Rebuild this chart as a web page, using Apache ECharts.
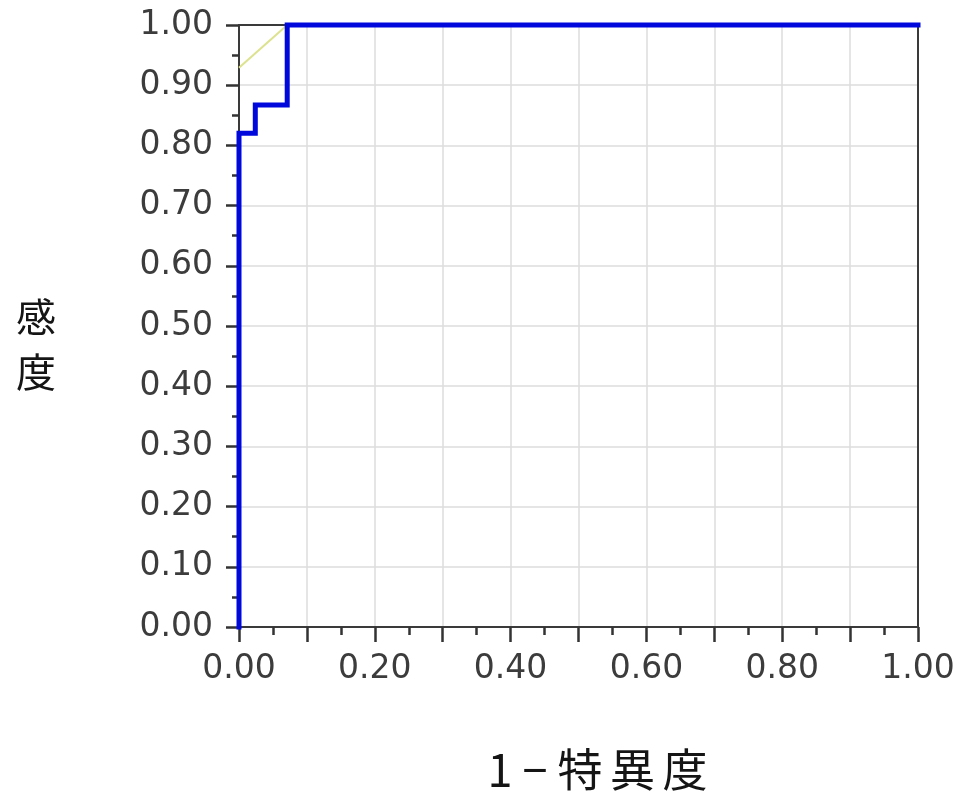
<!DOCTYPE html>
<html>
<head>
<meta charset="utf-8">
<script src="https://cdn.jsdelivr.net/npm/echarts@6/dist/echarts.min.js"></script>
<style>
  html, body { margin: 0; padding: 0; background: #fff; }
  #chart { width: 957px; height: 794px; }
</style>
</head>
<body>
<div id="chart"></div>
<script>
// ROC curve vertices (1 - specificity, sensitivity)
const rocFpr = [0, 0, 0.024, 0.024, 0.071, 0.071, 1];
const rocTpr = [0, 0.82, 0.82, 0.867, 0.867, 1, 1];

// Slope-1 reference line through the best cut-off point
const refFpr = [0, 0.071];
const refTpr = [0.929, 1];

// Axis titles (six-per-em spaces widen the character spacing)
const xTitle = '1 \u2212 特\u2006異\u2006度';
const yTitleChars = ['感', '度'];

const toPairs = (xs, ys) => xs.map((x, i) => [x, ys[i]]);

const labelFont = {
  fontFamily: 'DejaVu Sans',
  fontSize: 33,
  color: '#3c3c3c'
};

const frameLine = () => ({ color: '#3a3a3a', width: 2 });

const chart = echarts.init(document.getElementById('chart'), null, { renderer: 'canvas' });

chart.setOption({
  backgroundColor: '#ffffff',
  animation: false,
  grid: {
    left: 239,
    right: 39,
    top: 25,
    bottom: 167,
    outerBoundsMode: 'none',
    containLabel: false
  },
  xAxis: [
    {
      type: 'value',
      min: 0,
      max: 1,
      interval: 0.1,
      name: xTitle,
      nameLocation: 'middle',
      nameGap: 120,
      nameTextStyle: {
        fontFamily: 'Noto Sans CJK JP',
        fontSize: 45,
        padding: [0, 0, 0, 38],
        color: '#151515'
      },
      axisLine: { show: true, onZero: false, lineStyle: frameLine() },
      axisTick: { show: true, length: 15, lineStyle: { color: '#333', width: 2.5 } },
      minorTick: { show: true, splitNumber: 2, length: 8, lineStyle: { color: '#333', width: 2.5 } },
      axisLabel: Object.assign({
        margin: 26,
        formatter: v => (Math.round(v * 10) % 2 === 0 ? v.toFixed(2) : '')
      }, labelFont),
      splitLine: { show: true, lineStyle: { color: '#dcdcdc', width: 1.5 } },
      z: 2
    },
    {
      // top frame edge
      type: 'value',
      position: 'top',
      min: 0,
      max: 1,
      axisLine: { show: true, onZero: false, lineStyle: frameLine() },
      axisTick: { show: false },
      axisLabel: { show: false },
      splitLine: { show: false },
      z: 3
    }
  ],
  yAxis: [
    {
      type: 'value',
      min: 0,
      max: 1,
      interval: 0.1,
      // a short spacer line above the title nudges it below the axis centre
      name: '{gap| }\n' + yTitleChars.map(c => '{t|' + c + '}').join('\n'),
      nameLocation: 'middle',
      nameRotate: 0,
      nameGap: 183,
      nameTextStyle: {
        fontFamily: 'Noto Sans CJK JP',
        fontSize: 40,
        color: '#151515',
        rich: {
          gap: { fontSize: 10, lineHeight: 36 },
          t: { fontFamily: 'Noto Sans CJK JP', fontSize: 40, lineHeight: 55, color: '#151515' }
        }
      },
      axisLine: { show: true, onZero: false, lineStyle: frameLine() },
      axisTick: { show: true, length: 13, lineStyle: { color: '#333', width: 2.5 } },
      minorTick: { show: true, splitNumber: 2, length: 7, lineStyle: { color: '#333', width: 2.5 } },
      axisLabel: Object.assign({
        margin: 26,
        formatter: v => v.toFixed(2)
      }, labelFont),
      splitLine: { show: true, lineStyle: { color: '#dcdcdc', width: 1.5 } },
      z: 2
    },
    {
      // right frame edge
      type: 'value',
      position: 'right',
      min: 0,
      max: 1,
      axisLine: { show: true, onZero: false, lineStyle: frameLine() },
      axisTick: { show: false },
      axisLabel: { show: false },
      splitLine: { show: false },
      z: 3
    }
  ],
  series: [
    {
      type: 'line',
      data: toPairs(refFpr, refTpr),
      showSymbol: false,
      lineStyle: { color: '#dde28f', width: 2 },
      z: 4
    },
    {
      type: 'line',
      data: toPairs(rocFpr, rocTpr),
      showSymbol: false,
      clip: false,
      lineStyle: { color: '#0008dc', width: 5, join: 'miter', cap: 'square' },
      z: 6
    }
  ]
});
</script>
</body>
</html>
